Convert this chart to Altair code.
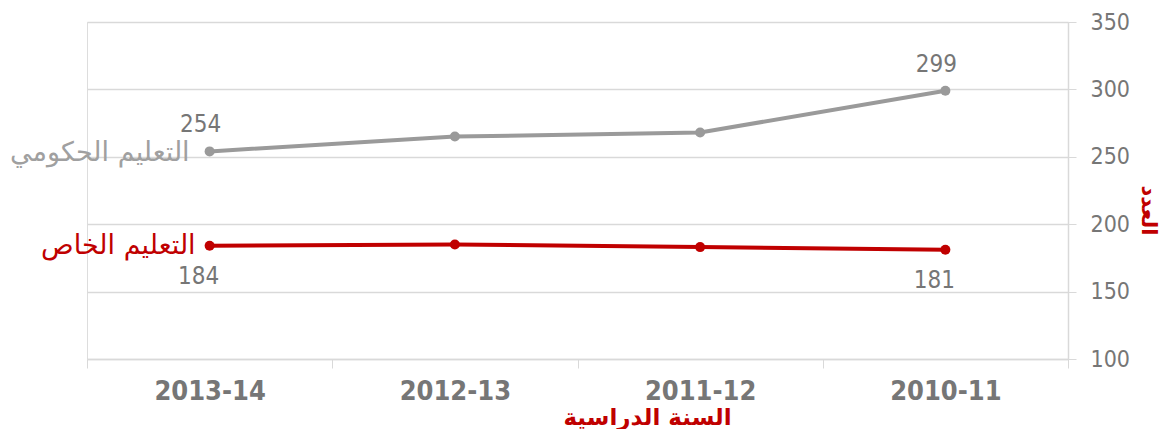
import altair as alt
import pandas as pd

years = ["2010-11", "2011-12", "2012-13", "2013-14"]
gov = [299, 268, 265, 254]
priv = [181, 183, 185, 184]
series_names = ["التعليم الحكومي", "التعليم الخاص"]
x_order = ["2013-14", "2012-13", "2011-12", "2010-11"]

rows = []
for y, g, p in zip(years, gov, priv):
    rows.append({"year": y, "value": g, "series": series_names[0]})
    rows.append({"year": y, "value": p, "series": series_names[1]})
df = pd.DataFrame(rows)

GRAY = "#9a9a9a"
RED = "#c00000"
LABEL = "#767676"
GRID = "#d9d9d9"

x_enc = alt.X(
    "year:N",
    sort=x_order,
    scale=alt.Scale(paddingInner=0, paddingOuter=0),
    axis=alt.Axis(
        title="السنة الدراسية",
        titleColor=RED,
        titleFont="DejaVu Sans",
        titleFontSize=23,
        titleFontWeight="bold",
        titleX=560,
        titleY=58,
        titleBaseline="middle",
        titleAlign="center",
        labelFont="DejaVu Sans Condensed",
        labelFontSize=27,
        labelFontWeight="bold",
        labelColor=LABEL,
        labelPadding=10,
        labelAngle=0,
        tickBand="extent",
        tickColor=GRID,
        tickSize=9,
        domainColor=GRID,
        domainWidth=1.5,
        grid=False,
    ),
)
y_enc = alt.Y(
    "value:Q",
    scale=alt.Scale(domain=[100, 350], nice=False, zero=False),
    axis=alt.Axis(
        orient="right",
        values=[100, 150, 200, 250, 300, 350],
        title="العدد",
        titleColor=RED,
        titleFont="DejaVu Sans",
        titleFontSize=21,
        titleFontWeight="bold",
        titleAngle=90,
        titleX=79,
        titleY=188,
        titleBaseline="middle",
        titleAlign="center",
        labelFont="DejaVu Sans Condensed",
        labelFontSize=23,
        labelColor=LABEL,
        labelPadding=14,
        tickColor=GRID,
        tickSize=8,
        domainColor=GRID,
        domainWidth=1.5,
        gridColor=GRID,
        gridWidth=1.5,
    ),
)
color_enc = alt.Color(
    "series:N",
    scale=alt.Scale(domain=series_names, range=[GRAY, RED]),
    legend=None,
)

base = alt.Chart(df).encode(x=x_enc, y=y_enc, color=color_enc)

lines = base.mark_line(strokeWidth=4)
points = base.mark_point(filled=True, size=100, opacity=1)

gov_vals = base.transform_filter(
    alt.FieldOneOfPredicate(field="year", oneOf=["2013-14", "2010-11"])
).transform_filter(alt.datum.series == series_names[0]).mark_text(
    font="DejaVu Sans Condensed", fontSize=24, dx=-9, dy=-26, color=LABEL
).encode(text="value:Q", color=alt.value(LABEL))

priv_vals = base.transform_filter(
    alt.FieldOneOfPredicate(field="year", oneOf=["2013-14", "2010-11"])
).transform_filter(alt.datum.series == series_names[1]).mark_text(
    font="DejaVu Sans Condensed", fontSize=24, dx=-11, dy=31, color=LABEL
).encode(text="value:Q", color=alt.value(LABEL))

gov_name = base.transform_filter(
    (alt.datum.year == "2013-14") & (alt.datum.series == series_names[0])
).mark_text(
    font="DejaVu Sans", fontSize=27, dx=-20, dy=2, align="right", baseline="middle"
).encode(text="series:N", color=alt.value("#a0a0a0"))

priv_name = base.transform_filter(
    (alt.datum.year == "2013-14") & (alt.datum.series == series_names[1])
).mark_text(
    font="DejaVu Sans", fontSize=27, dx=-14, dy=0, align="right", baseline="middle"
).encode(text="series:N", color=alt.value(RED))

chart = alt.layer(lines, points, gov_vals, priv_vals, gov_name, priv_name).properties(
    width=981,
    height=337,
    autosize=alt.AutoSizeParams(type="none"),
    padding={"left": 79, "top": 14, "right": 92, "bottom": 70},
).configure_view(stroke=None).configure(background="white")

chart.save("out.html", embed_options={"renderer": "svg", "actions": False})
